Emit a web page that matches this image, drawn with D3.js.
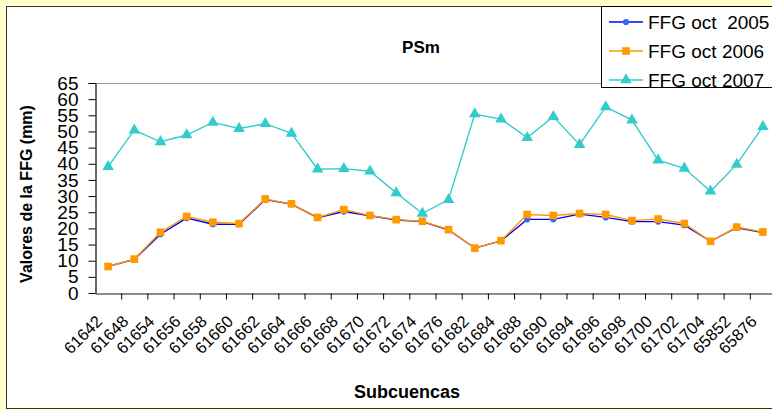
<!DOCTYPE html>
<html>
<head>
<meta charset="utf-8">
<script src="https://cdn.jsdelivr.net/npm/d3@7"></script>
<style>
  body { margin: 0; background: #ffffcc; }
  svg { display: block; font-family: "Liberation Sans", Arial, sans-serif; }
</style>
</head>
<body>
<div id="my_dataviz"></div>
<script>
// subcuencas (x categories)
const categories = ["61642", "61648", "61654", "61656", "61658", "61660", "61662", "61664",
  "61666", "61668", "61670", "61672", "61674", "61676", "61682", "61684", "61688", "61690",
  "61694", "61696", "61698", "61700", "61702", "61704", "65852", "65876"];

// FFG values (mm)
const ffg2005 = [8.2, 10.4, 18.2, 23.2, 21.3, 21.3, 28.9, 27.5, 23.3, 25.2, 23.9, 22.6, 22.1,
  19.5, 13.9, 16.1, 22.8, 22.8, 24.4, 23.4, 22.1, 22.1, 21.0, 16.0, 20.2, 18.7];
const ffg2006 = [8.2, 10.5, 18.8, 23.7, 21.9, 21.5, 29.1, 27.6, 23.4, 25.8, 24.0, 22.7, 22.2,
  19.6, 13.9, 16.2, 24.3, 24.0, 24.6, 24.3, 22.4, 22.9, 21.5, 16.0, 20.4, 18.9];
const ffg2007 = [39.1, 50.4, 46.8, 48.9, 52.8, 50.9, 52.4, 49.4, 38.3, 38.5, 37.7, 31.0, 24.6,
  28.9, 55.4, 53.8, 48.1, 54.6, 45.9, 57.6, 53.5, 41.1, 38.6, 31.5, 39.8, 51.5];

const seriesNames = ["FFG oct  2005", "FFG oct 2006", "FFG oct 2007"];
const yTicks = d3.range(0, 66, 5);

const W = 772, H = 410;
const plot = { left: 95, right: 776, top: 83, bottom: 293 };

const svg = d3.select("#my_dataviz")
  .append("svg")
  .attr("width", W)
  .attr("height", H);

// chart area
svg.append("rect")
  .attr("x", 6.5).attr("y", 6.5)
  .attr("width", W).attr("height", H - 8)
  .attr("fill", "white")
  .attr("stroke", "#333").attr("stroke-width", 1);

// scales
const x = d3.scaleBand()
  .domain(categories)
  .range([plot.left, plot.right])
  .padding(0);
const cx = (c) => x(c) + x.bandwidth() / 2;

const y = d3.scaleLinear()
  .domain([0, 65])
  .range([plot.bottom, plot.top]);

// plot area border (top)
svg.append("line")
  .attr("x1", plot.left - 7).attr("x2", plot.right)
  .attr("y1", plot.top + 0.5).attr("y2", plot.top + 0.5)
  .attr("stroke", "#999").attr("stroke-width", 1.2);

// Yaxis
const yAxis = svg.append("g")
  .attr("transform", `translate(${plot.left + 0.5},0)`)
  .call(d3.axisLeft(y).tickValues(yTicks).tickSize(7).tickPadding(10).tickSizeOuter(0));
yAxis.select(".domain").attr("stroke", "#000").attr("stroke-width", 1.2);
yAxis.selectAll(".tick line").attr("stroke", "#000");
yAxis.selectAll("text")
  .style("font-size", "19px")
  .style("font-family", "Liberation Sans, Arial, sans-serif")
  .attr("fill", "#000");

// Xaxis
const xAxis = svg.append("g")
  .attr("transform", `translate(0,${plot.bottom + 0.5})`)
  .call(d3.axisBottom(x).tickSize(0).tickSizeOuter(0));
xAxis.select(".domain").attr("stroke", "#666").attr("stroke-width", 1.5);
xAxis.selectAll("text")
  .attr("transform", "translate(-7,27)rotate(-45)")
  .attr("dy", 0)
  .style("text-anchor", "end")
  .style("font-size", "16.5px")
  .style("font-family", "Liberation Sans, Arial, sans-serif")
  .attr("fill", "#000");

// tick marks between categories
xAxis.selectAll(".cat-tick")
  .data(categories.slice(1))
  .join("line")
  .attr("x1", (d) => x(d) + 0.5).attr("x2", (d) => x(d) + 0.5)
  .attr("y1", 0).attr("y2", 6)
  .attr("stroke", "#000");

// series
const series = [
  { name: seriesNames[0], values: ffg2005, color: "#0000ff", marker: "#3366ff", shape: d3.symbolCircle, size: 30 },
  { name: seriesNames[1], values: ffg2006, color: "#ff9900", marker: "#ff9900", shape: d3.symbolSquare, size: 58 },
  { name: seriesNames[2], values: ffg2007, color: "#33cccc", marker: "#33cccc", shape: d3.symbolTriangle, size: 58 }
];

const line = d3.line()
  .x((d, i) => cx(categories[i]))
  .y((d) => y(d));

series.forEach((s) => {
  svg.append("path")
    .datum(s.values)
    .attr("fill", "none")
    .attr("stroke", s.color)
    .attr("stroke-width", 1.4)
    .attr("d", line);

  svg.selectAll(null)
    .data(s.values)
    .join("path")
    .attr("transform", (d, i) => `translate(${cx(categories[i])},${y(d)})`)
    .attr("d", d3.symbol().type(s.shape).size(s.size))
    .attr("fill", s.marker);
});

// chart title
svg.append("text")
  .attr("x", 421).attr("y", 53)
  .attr("text-anchor", "middle")
  .style("font-size", "17px").style("font-weight", "bold")
  .text("PSm");

// axis titles
svg.append("text")
  .attr("transform", "translate(32,194)rotate(-90)")
  .attr("text-anchor", "middle")
  .style("font-size", "16px").style("font-weight", "bold")
  .text("Valores de la FFG (mm)");

svg.append("text")
  .attr("x", 407).attr("y", 398)
  .attr("text-anchor", "middle")
  .style("font-size", "18px").style("font-weight", "bold")
  .text("Subcuencas");

// legend
const legend = svg.append("g");
legend.append("rect")
  .attr("x", 601.5).attr("y", 6.5)
  .attr("width", 200).attr("height", 81)
  .attr("fill", "white")
  .attr("stroke", "#000").attr("stroke-width", 1);

series.forEach((s, i) => {
  const ly = 22 + i * 29;
  legend.append("line")
    .attr("x1", 609).attr("x2", 643)
    .attr("y1", ly).attr("y2", ly)
    .attr("stroke", s.color).attr("stroke-width", 1.6);
  legend.append("path")
    .attr("transform", `translate(626,${ly})`)
    .attr("d", d3.symbol().type(s.shape).size(s.size))
    .attr("fill", s.marker);
  legend.append("text")
    .attr("x", 648).attr("y", ly + 7)
    .attr("xml:space", "preserve")
    .style("white-space", "pre")
    .style("font-size", "19px")
    .text(s.name);
});
</script>
</body>
</html>
